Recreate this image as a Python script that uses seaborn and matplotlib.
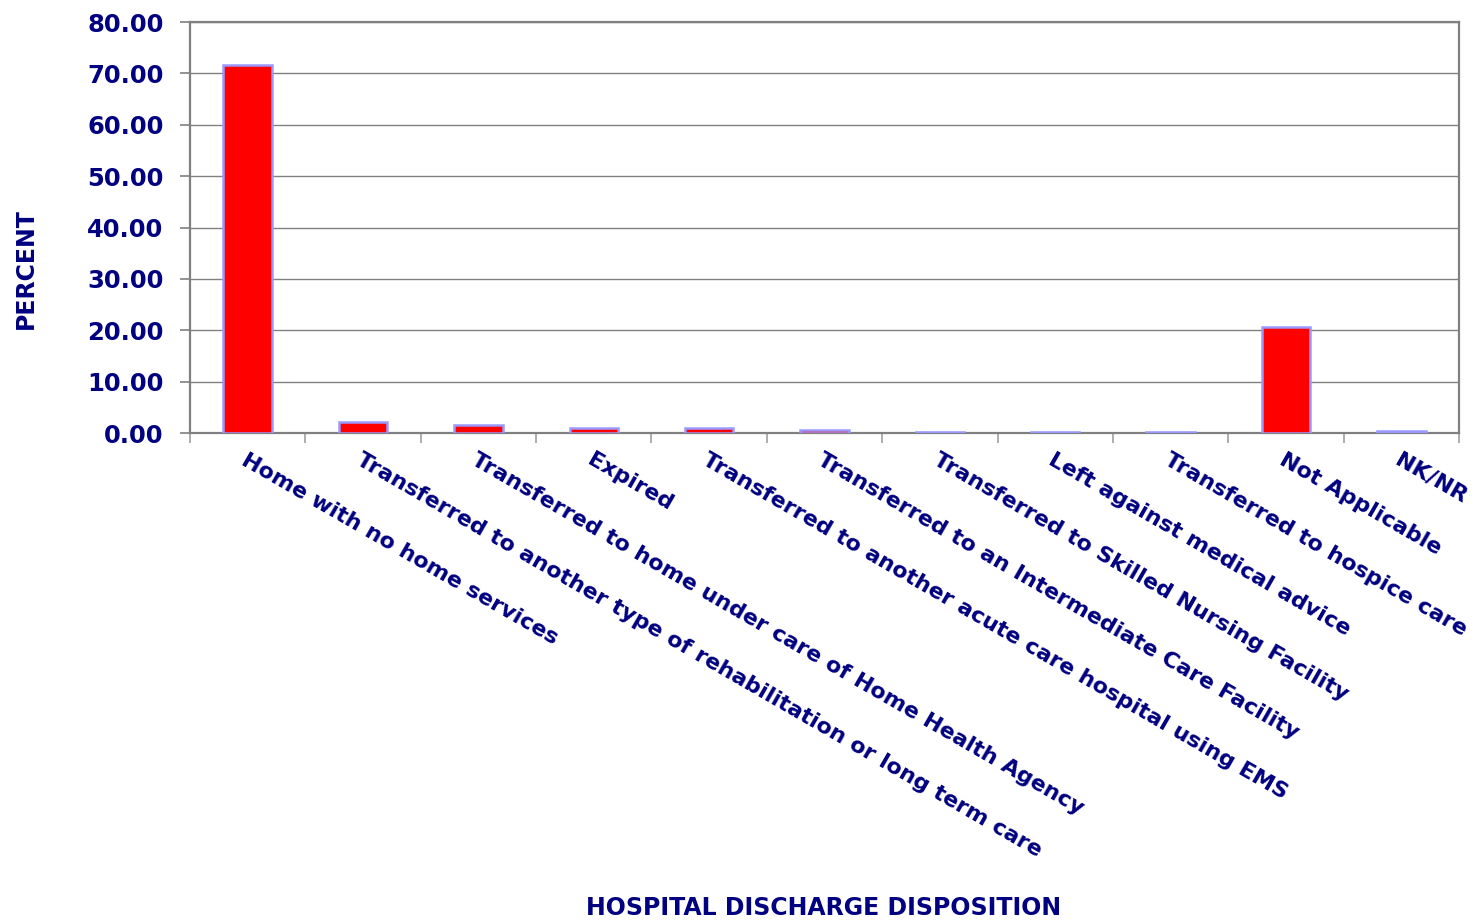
import matplotlib
matplotlib.use("Agg")
import matplotlib.pyplot as plt
import seaborn as sns
import pandas as pd
from matplotlib.ticker import FixedLocator, FormatStrFormatter

categories = [
    "Home with no home services",
    "Transferred to another type of rehabilitation or long term care",
    "Transferred to home under care of Home Health Agency",
    "Expired",
    "Transferred to another acute care hospital using EMS",
    "Transferred to an Intermediate Care Facility",
    "Transferred to Skilled Nursing Facility",
    "Left against medical advice",
    "Transferred to hospice care",
    "Not Applicable",
    "NK/NR",
]
percent = [71.7, 2.2, 1.5, 1.0, 0.9, 0.5, 0.2, 0.15, 0.1, 20.7, 0.3]
y_ticks = [0, 10, 20, 30, 40, 50, 60, 70, 80]

navy = "#000080"
grey = "#808080"

sns.set_theme(style="white")
plt.rcParams["font.family"] = ["DejaVu Sans"]

df = pd.DataFrame({"disposition": categories, "percent": percent})

fig = plt.figure(figsize=(14.82, 9.23), dpi=100)
ax = fig.add_axes([190 / 1482, 1 - 433 / 923, (1459 - 190) / 1482, (433 - 22) / 923])

sns.barplot(data=df, x="disposition", y="percent", color="#ff0000",
            edgecolor="#9999ff", linewidth=1.8, width=0.42, saturation=1,
            ax=ax, zorder=3)

ax.set_xlim(-0.5, len(categories) - 0.5)
ax.set_ylim(0, 80)
ax.yaxis.set_major_locator(FixedLocator(y_ticks))
ax.yaxis.set_major_formatter(FormatStrFormatter("%.2f"))
ax.grid(axis="y", color=grey, linewidth=1.0, zorder=0)
ax.grid(axis="x", visible=False)

for s in ax.spines.values():
    s.set_color(grey)
    s.set_linewidth(1.6)
    s.set_visible(True)

# category boundaries get the tick marks, centres carry the labels
ax.set_xticks([i - 0.5 for i in range(len(categories) + 1)], minor=True)
ax.tick_params(axis="x", which="minor", length=7, width=1.2, color="#a0a0a0",
               direction="out", bottom=True)
ax.set_xticks(range(len(categories)))
ax.set_xticklabels(categories, rotation=-30, ha="left", va="top",
                   rotation_mode="anchor", fontsize=16, fontweight="bold",
                   color=navy)
ax.tick_params(axis="x", which="major", length=0, pad=12)
ax.tick_params(axis="y", which="major", length=7, width=1.2, color=grey,
               direction="out", left=True, pad=12, labelsize=17.5,
               labelcolor=navy)
for t in ax.get_yticklabels():
    t.set_fontweight("bold")

ax.set_xlabel("")
ax.set_ylabel("")
fig.text(26 / 1482, 1 - 269 / 923, "PERCENT", rotation=90,
         ha="center", va="center", fontsize=17, fontweight="bold", color=navy)
fig.text(824 / 1482, 1 - 908 / 923, "HOSPITAL DISCHARGE DISPOSITION",
         ha="center", va="center", fontsize=17, fontweight="bold", color=navy)

fig.savefig("out.png", dpi=100)
